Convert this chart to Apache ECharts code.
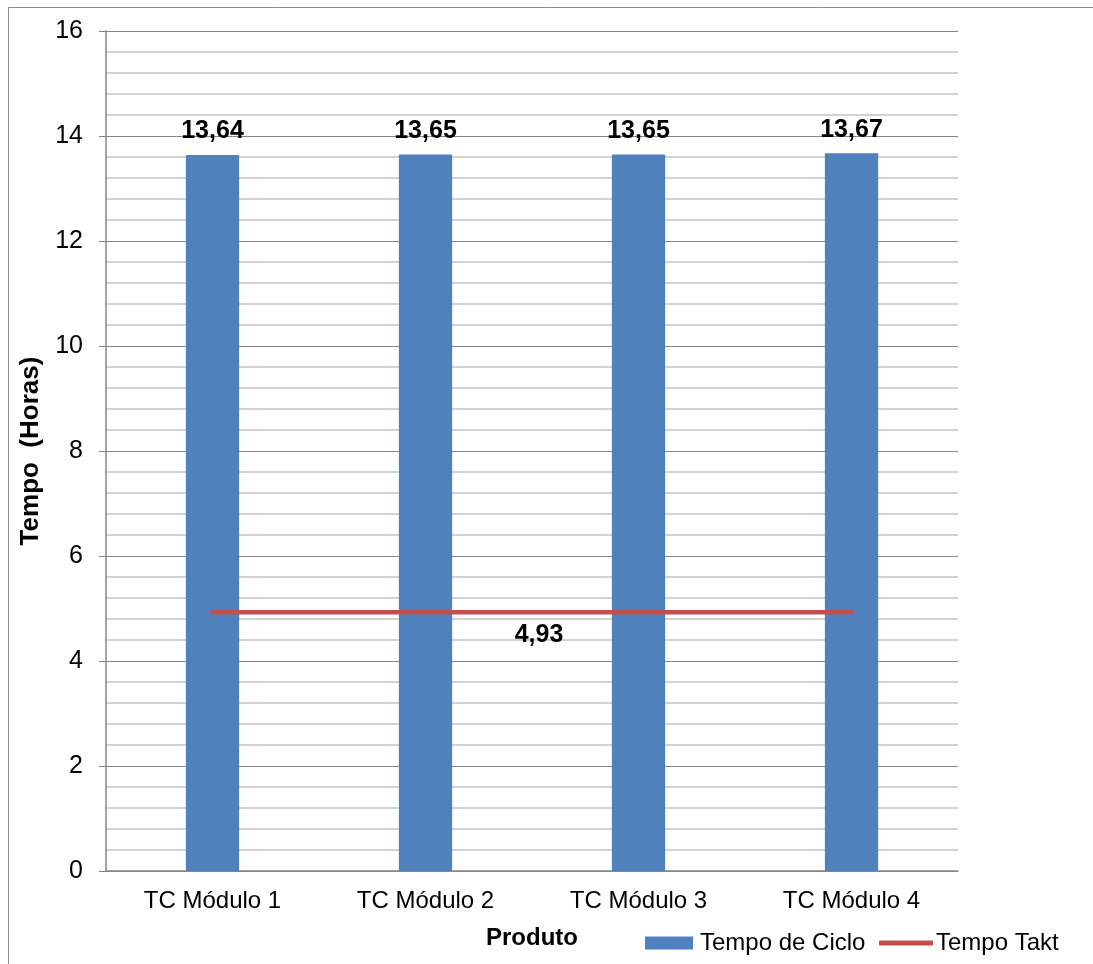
<!DOCTYPE html>
<html>
<head>
<meta charset="utf-8">
<script src="https://cdn.jsdelivr.net/npm/echarts@6/dist/echarts.min.js"></script>
<style>
html,body{margin:0;padding:0;background:#fff;}
#chart{width:1093px;height:964px;}
</style>
</head>
<body>
<div id="chart"></div>
<script>
const categories = ['TC Módulo 1', 'TC Módulo 2', 'TC Módulo 3', 'TC Módulo 4'];
const tempoCiclo = [13.64, 13.65, 13.65, 13.67];
const tempoTakt = [4.93, 4.93, 4.93, 4.93];
const taktLabel = 4.93;

const fmt = v => v.toFixed(2).replace('.', ',');
const FONT = '"Liberation Sans", Arial, sans-serif';

const chart = echarts.init(document.getElementById('chart'), null, {renderer: 'canvas'});
chart.setOption({
  animation: false,
  backgroundColor: '#ffffff',
  textStyle: {fontFamily: FONT},
  graphic: [{
    type: 'rect',
    shape: {x: 8.5, y: 7.5, width: 1200, height: 1200},
    style: {fill: 'none', stroke: '#8c8c8c', lineWidth: 1},
    silent: true,
    z: -10
  }],
  grid: {left: 106, right: 135, top: 31, bottom: 93, containLabel: false},
  legend: [
    {
      left: 640,
      top: 926,
      itemWidth: 48,
      itemHeight: 13,
      textStyle: {fontFamily: FONT, fontSize: 24, color: '#000', padding: [0, 0, 0, 2]},
      data: [{name: 'Tempo de Ciclo', icon: 'rect'}]
    },
    {
      left: 874,
      top: 926,
      itemWidth: 54,
      itemHeight: 5,
      textStyle: {fontFamily: FONT, fontSize: 24, color: '#000', padding: [0, 0, 0, -2]},
      data: [{name: 'Tempo Takt', icon: 'roundRect'}]
    }
  ],
  xAxis: {
    type: 'category',
    data: categories,
    name: 'Produto',
    nameLocation: 'middle',
    nameGap: 55,
    nameTextStyle: {fontFamily: FONT, fontSize: 24, fontWeight: 'bold', color: '#000'},
    axisLine: {lineStyle: {color: '#868686', width: 1.5}},
    axisTick: {show: false},
    axisLabel: {fontFamily: FONT, fontSize: 24, color: '#000', margin: 18},
    splitLine: {show: false}
  },
  yAxis: {
    type: 'value',
    min: 0,
    max: 16,
    interval: 2,
    name: 'Tempo  (Horas)',
    nameLocation: 'middle',
    nameGap: 61,
    nameTextStyle: {fontFamily: FONT, fontSize: 26, fontWeight: 'bold', color: '#000'},
    axisLine: {show: true, lineStyle: {color: '#868686', width: 1.5}},
    axisTick: {show: true, length: 7, lineStyle: {color: '#868686'}},
    axisLabel: {fontFamily: FONT, fontSize: 25, color: '#000', margin: 23},
    splitLine: {show: true, lineStyle: {color: '#868686', width: 1}},
    minorTick: {show: false, splitNumber: 5},
    minorSplitLine: {show: true, lineStyle: {color: '#c3c3c3', width: 1.5}}
  },
  series: [
    {
      name: 'Tempo de Ciclo',
      type: 'bar',
      data: tempoCiclo,
      barWidth: '25%',
      itemStyle: {color: '#4F81BD'},
      label: {
        show: true,
        position: 'top',
        distance: 11,
        formatter: p => fmt(p.value),
        fontFamily: FONT,
        fontSize: 25,
        fontWeight: 'bold',
        color: '#000'
      },
      z: 2
    },
    {
      name: 'Tempo Takt',
      type: 'line',
      data: tempoTakt,
      symbol: 'none',
      lineStyle: {color: '#C0504D', width: 4.5, cap: 'round'},
      itemStyle: {color: '#C0504D'},
      z: 3,
      markLine: {
        silent: true,
        symbol: 'none',
        lineStyle: {color: 'rgba(0,0,0,0)', width: 0},
        label: {
          show: true,
          position: 'insideMiddleBottom',
          distance: 10,
          formatter: fmt(taktLabel),
          fontFamily: FONT,
          fontSize: 25,
          fontWeight: 'bold',
          color: '#000',
          padding: [0, 0, 0, 14]
        },
        data: [[{coord: [categories[0], taktLabel]}, {coord: [categories[3], taktLabel]}]]
      }
    }
  ]
});
</script>
</body>
</html>
